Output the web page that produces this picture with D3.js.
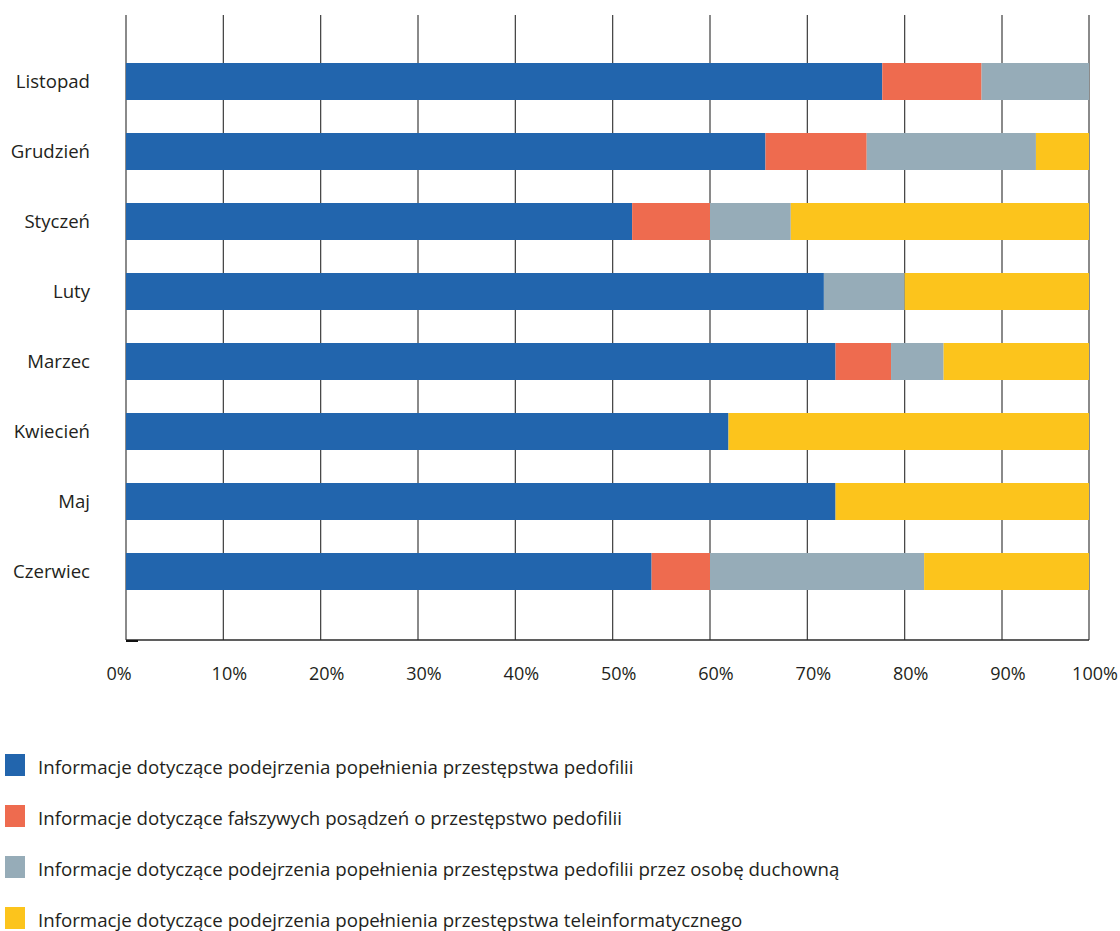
<!DOCTYPE html>
<html>
<head>
<meta charset="utf-8">
<script src="https://cdn.jsdelivr.net/npm/d3@7"></script>
<style>
  html, body { margin: 0; padding: 0; background: #fff; }
  svg { display: block; }
  text { font-family: "Open Sans", Lato, sans-serif; fill: #231f20; }
</style>
</head>
<body>
<svg id="chart" width="1120" height="931"></svg>
<script>
// ---- data ----
const categories = ["Listopad", "Grudzień", "Styczeń", "Luty", "Marzec", "Kwiecień", "Maj", "Czerwiec"];
const seriesNames = [
  "Informacje dotyczące podejrzenia popełnienia przestępstwa pedofilii",
  "Informacje dotyczące fałszywych posądzeń o przestępstwo pedofilii",
  "Informacje dotyczące podejrzenia popełnienia przestępstwa pedofilii przez osobę duchowną",
  "Informacje dotyczące podejrzenia popełnienia przestępstwa teleinformatycznego"
];
const pedofilia  = [77.7, 65.7, 52.0, 71.7, 72.9, 61.9, 72.9, 54.0];
const falszywe   = [10.2, 10.4,  8.0,  0.0,  5.7,  0.0,  0.0,  6.0];
const duchowni   = [12.1, 17.8,  8.3,  8.3,  5.4,  0.0,  0.0, 22.0];
const teleinf    = [ 0.0,  6.1, 31.7, 20.0, 16.0, 38.1, 27.1, 18.0];
const xTicks = [0, 10, 20, 30, 40, 50, 60, 70, 80, 90, 100];
const xTickLabels = ["0%", "10%", "20%", "30%", "40%", "50%", "60%", "70%", "80%", "90%", "100%"];
const colors = ["#2265ad", "#ee6b4f", "#96acb8", "#fcc41c"];

// ---- build ----
const keys = ["s0", "s1", "s2", "s3"];
const table = categories.map((c, i) => ({
  cat: c, s0: pedofilia[i], s1: falszywe[i], s2: duchowni[i], s3: teleinf[i]
}));
const stacked = d3.stack().keys(keys)(table);

const svg = d3.select("#chart");
const plotTop = 15, plotBottom = 640;

const x = d3.scaleLinear().domain([0, 90, 100]).range([126, 1002, 1089]);
const y = d3.scaleBand().domain(categories).range([46.5, 606.5])
  .paddingInner(0.4714).paddingOuter(0.2357);

// gridlines
svg.append("g").selectAll("line").data(xTicks).join("line")
  .attr("x1", d => x(d)).attr("x2", d => x(d))
  .attr("y1", plotTop).attr("y2", plotBottom)
  .attr("stroke", "#3c3c3c").attr("stroke-width", 1.2);

// bottom axis line
svg.append("line")
  .attr("x1", x(0)).attr("x2", x(100))
  .attr("y1", plotBottom).attr("y2", plotBottom)
  .attr("stroke", "#2a2a2a").attr("stroke-width", 1.4);
svg.append("line")
  .attr("x1", x(0)).attr("x2", x(0) + 12)
  .attr("y1", plotBottom + 1).attr("y2", plotBottom + 1)
  .attr("stroke", "#111").attr("stroke-width", 2);

// bars
svg.append("g").selectAll("g").data(stacked).join("g")
  .attr("fill", (d, i) => colors[i])
  .selectAll("rect").data(d => d).join("rect")
  .attr("x", d => x(d[0]))
  .attr("width", d => Math.max(0, x(d[1]) - x(d[0])))
  .attr("y", d => y(d.data.cat))
  .attr("height", y.bandwidth());

// y labels
svg.append("g").selectAll("text").data(categories).join("text")
  .attr("x", 90)
  .attr("y", d => y(d) + y.bandwidth() / 2)
  .attr("dy", "0.36em")
  .attr("text-anchor", "end")
  .attr("font-size", 18.6)
  .text(d => d);

// x tick labels
svg.append("g").selectAll("text").data(xTicks).join("text")
  .attr("x", d => x(d) + (d === 0 ? -7 : 6))
  .attr("y", 680)
  .attr("text-anchor", "middle")
  .attr("font-size", 18)
  .text((d, i) => xTickLabels[i]);

// legend
const lg = svg.append("g").selectAll("g").data(seriesNames).join("g")
  .attr("transform", (d, i) => `translate(5, ${754 + i * 51})`);
lg.append("rect").attr("width", 20).attr("height", 22).attr("fill", (d, i) => colors[i]);
lg.append("text").attr("x", 33).attr("y", 19.5).attr("font-size", 18.7).text(d => d);
</script>
</body>
</html>
